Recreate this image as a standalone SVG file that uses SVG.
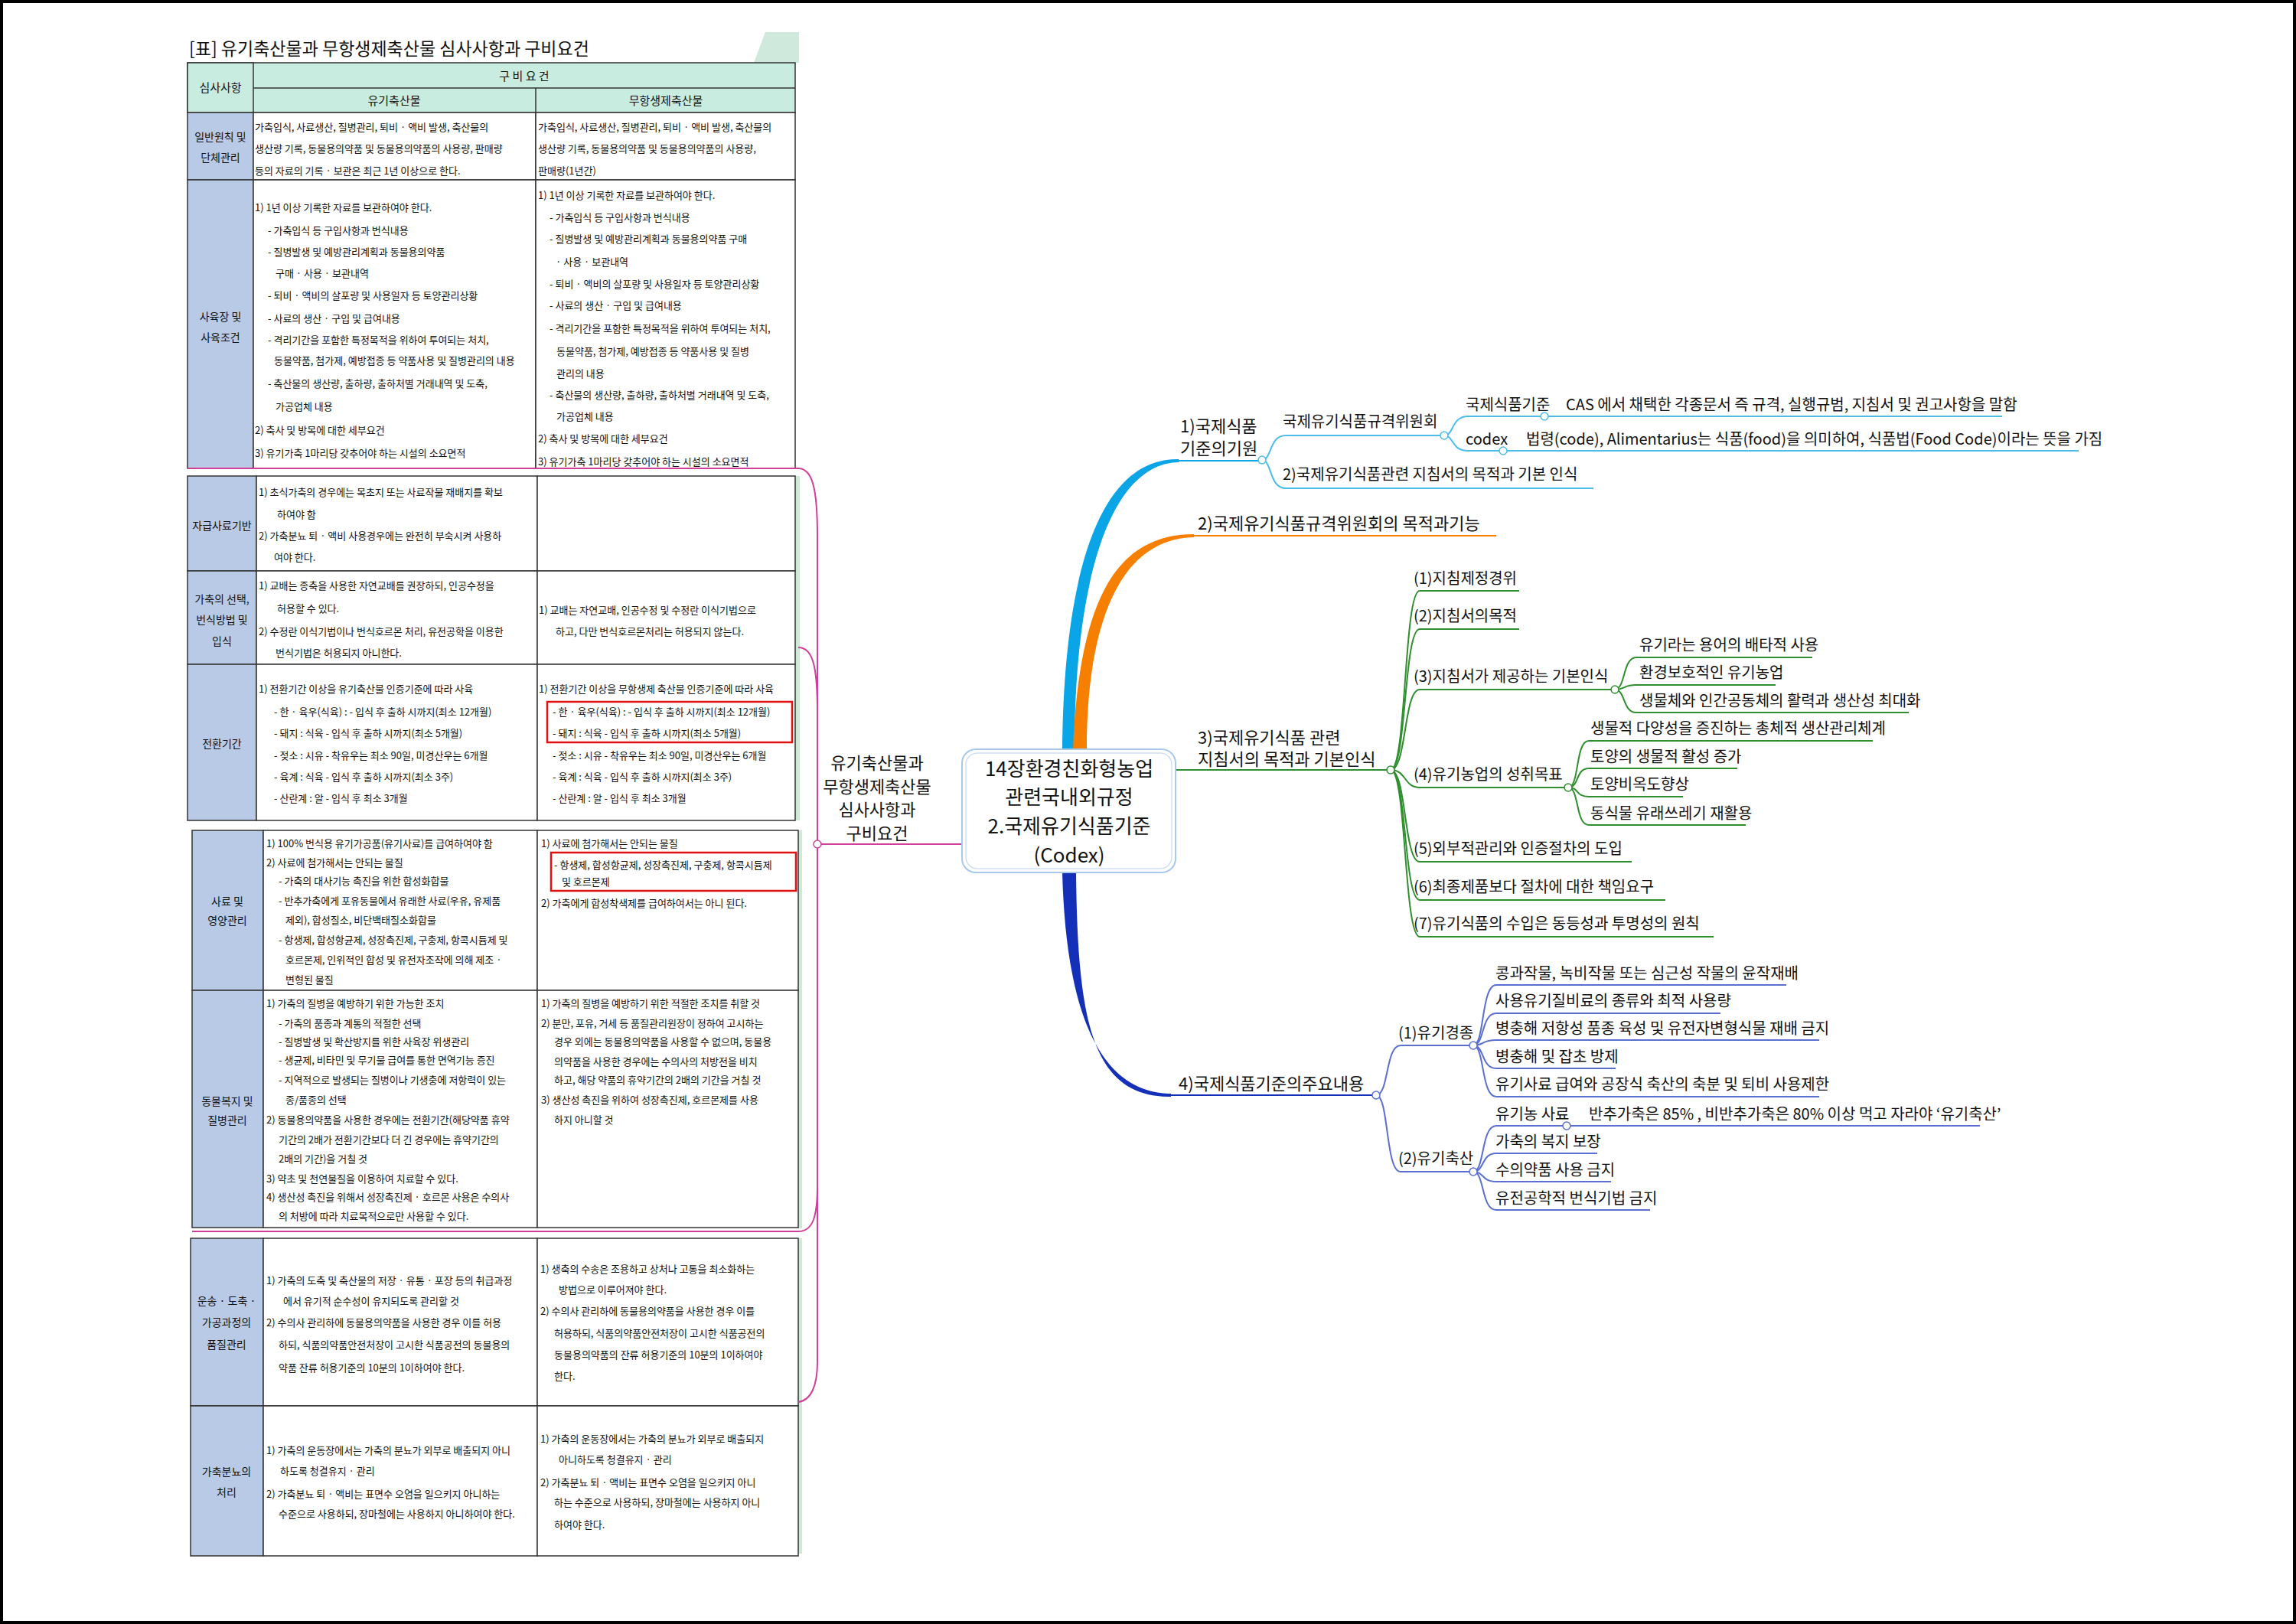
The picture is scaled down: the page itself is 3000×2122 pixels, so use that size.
<svg xmlns="http://www.w3.org/2000/svg" width="3000" height="2122" viewBox="0 0 3000 2122">
<style>
text{font-family:"Noto Sans CJK KR","Noto Sans",sans-serif;fill:#111}
.t{font-size:13px}
.lb{font-size:14px;text-anchor:middle}
.hd{font-size:15px;text-anchor:middle}
.mm{font-size:20px}
.mb{font-size:22px}
.cell{fill:#fff;stroke:#333;stroke-width:1.5}
.lab{fill:#b8cae6;stroke:#333;stroke-width:1.5}
.hdr{fill:#c8ece0;stroke:#333;stroke-width:1.5}
.red{fill:none;stroke:#e01010;stroke-width:2.5}
.b1{fill:none;stroke:#4cbcea;stroke-width:2}
.b3{fill:none;stroke:#2f8f2f;stroke-width:2}
.b4{fill:none;stroke:#5a6fd0;stroke-width:2}
.pk{fill:none;stroke:#d0409a;stroke-width:2}
.dot{fill:#fff;stroke-width:1.5}
</style>
<rect x="2" y="2" width="2996" height="2118" fill="#fff" stroke="#000" stroke-width="4"/>

<g id="table">
<text x="247" y="72" style="font-size:23px">[표] 유기축산물과 무항생제축산물 심사사항과 구비요건</text>
<polygon points="1000,42 1044,42 1044,82 985,82" fill="#cfe9dc"/>
<rect class="hdr" x="245" y="82" width="794" height="65"/>
<rect class="hdr" x="245" y="82" width="86" height="65"/>
<line x1="331" y1="115" x2="1039" y2="115" stroke="#333" stroke-width="1.5"/>
<line x1="700" y1="115" x2="700" y2="147" stroke="#333" stroke-width="1.5"/>
<text class="hd" x="288" y="120">심사사항</text>
<text class="hd" x="685" y="105">구 비 요 건</text>
<text class="hd" x="515" y="137">유기축산물</text>
<text class="hd" x="870" y="137">무항생제축산물</text>
<rect class="lab" x="245" y="147" width="86" height="88"/>
<rect class="cell" x="331" y="147" width="369" height="88"/>
<rect class="cell" x="700" y="147" width="339" height="88"/>
<rect class="lab" x="245" y="235" width="86" height="377"/>
<rect class="cell" x="331" y="235" width="369" height="377"/>
<rect class="cell" x="700" y="235" width="339" height="377"/>
<text class="lb" x="288" y="184">일반원칙 및</text>
<text class="lb" x="288" y="211">단체관리</text>
<text class="lb" x="288" y="419">사육장 및</text>
<text class="lb" x="288" y="446">사육조건</text>
<g class="t">
<text x="333" y="171">가축입식, 사료생산, 질병관리, 퇴비 · 액비 발생, 축산물의</text>
<text x="333" y="199">생산량 기록, 동물용의약품 및 동물용의약품의 사용량, 판매량</text>
<text x="333" y="228">등의 자료의 기록 · 보관은 최근 1년 이상으로 한다.</text>
<text x="703" y="171">가축입식, 사료생산, 질병관리, 퇴비 · 액비 발생, 축산물의</text>
<text x="703" y="199">생산량 기록, 동물용의약품 및 동물용의약품의 사용량,</text>
<text x="703" y="228">판매량(1년간)</text>
<text x="333" y="276">1) 1년 이상 기록한 자료를 보관하여야 한다.</text>
<text x="350" y="306">- 가축입식 등 구입사항과 번식내용</text>
<text x="350" y="334">- 질병발생 및 예방관리계획과 동물용의약품</text>
<text x="360" y="362">구매 · 사용 · 보관내역</text>
<text x="350" y="391">- 퇴비 · 액비의 살포량 및 사용일자 등 토양관리상황</text>
<text x="350" y="421">- 사료의 생산 · 구입 및 급여내용</text>
<text x="350" y="449">- 격리기간을 포함한 특정목적을 위하여 투여되는 처치,</text>
<text x="358" y="476">동물약품, 첨가제, 예방접종 등 약품사용 및 질병관리의 내용</text>
<text x="350" y="506">- 축산물의 생산량, 출하량, 출하처별 거래내역 및 도축,</text>
<text x="360" y="536">가공업체 내용</text>
<text x="333" y="567">2) 축사 및 방목에 대한 세부요건</text>
<text x="333" y="597">3) 유기가축 1마리당 갖추어야 하는 시설의 소요면적</text>
<text x="703" y="260">1) 1년 이상 기록한 자료를 보관하여야 한다.</text>
<text x="718" y="289">- 가축입식 등 구입사항과 번식내용</text>
<text x="718" y="317">- 질병발생 및 예방관리계획과 동물용의약품 구매</text>
<text x="726" y="347">· 사용 · 보관내역</text>
<text x="718" y="376">- 퇴비 · 액비의 살포량 및 사용일자 등 토양관리상황</text>
<text x="718" y="404">- 사료의 생산 · 구입 및 급여내용</text>
<text x="718" y="434">- 격리기간을 포함한 특정목적을 위하여 투여되는 처치,</text>
<text x="727" y="464">동물약품, 첨가제, 예방접종 등 약품사용 및 질병</text>
<text x="727" y="493">관리의 내용</text>
<text x="718" y="521">- 축산물의 생산량, 출하량, 출하처별 거래내역 및 도축,</text>
<text x="727" y="549">가공업체 내용</text>
<text x="703" y="578">2) 축사 및 방목에 대한 세부요건</text>
<text x="703" y="608">3) 유기가축 1마리당 갖추어야 하는 시설의 소요면적</text>
</g>

<rect x="1039" y="622" width="6" height="450" fill="#cfe8d8"/>
<rect class="lab" x="245" y="622" width="90" height="124"/>
<rect class="cell" x="335" y="622" width="367" height="124"/>
<rect class="cell" x="702" y="622" width="337" height="124"/>
<rect class="lab" x="245" y="746" width="90" height="122"/>
<rect class="cell" x="335" y="746" width="367" height="122"/>
<rect class="cell" x="702" y="746" width="337" height="122"/>
<rect class="lab" x="245" y="868" width="90" height="204"/>
<rect class="cell" x="335" y="868" width="367" height="204"/>
<rect class="cell" x="702" y="868" width="337" height="204"/>
<text class="lb" x="290" y="692">자급사료기반</text>
<text class="lb" x="290" y="788">가축의 선택,</text>
<text class="lb" x="290" y="815">번식방법 및</text>
<text class="lb" x="290" y="843">입식</text>
<text class="lb" x="290" y="977">전환기간</text>
<g class="t">
<text x="338" y="648">1)  초식가축의 경우에는 목초지 또는 사료작물 재배지를 확보</text>
<text x="362" y="677">하여야 함</text>
<text x="338" y="705">2) 가축분뇨 퇴 · 액비 사용경우에는 완전히 부숙시켜 사용하</text>
<text x="358" y="733">여야 한다.</text>
<text x="338" y="770">1)  교배는 종축을 사용한 자연교배를 권장하되, 인공수정을</text>
<text x="362" y="800">허용할 수 있다.</text>
<text x="338" y="830">2)  수정란 이식기법이나 번식호르몬 처리, 유전공학을 이용한</text>
<text x="360" y="858">번식기법은 허용되지 아니한다.</text>
<text x="704" y="802">1)  교배는 자연교배, 인공수정 및 수정란 이식기법으로</text>
<text x="726" y="830">하고, 다만 번식호르몬처리는 허용되지 않는다.</text>
<text x="338" y="905">1) 전환기간 이상을 유기축산물 인증기준에 따라 사육</text>
<text x="358" y="935">- 한 · 육우(식육) : - 입식 후 출하 시까지(최소 12개월)</text>
<text x="358" y="963">- 돼지 : 식육 - 입식 후 출하 시까지(최소 5개월)</text>
<text x="358" y="992">- 젖소 : 시유 - 착유우는 최소 90일, 미경산우는 6개월</text>
<text x="358" y="1020">- 육계 : 식육 - 입식 후 출하 시까지(최소 3주)</text>
<text x="358" y="1048">- 산란계 : 알 - 입식 후 최소 3개월</text>
<text x="704" y="905">1) 전환기간 이상을 무항생제 축산물 인증기준에 따라 사육</text>
<text x="722" y="935">- 한 · 육우(식육) : - 입식 후 출하 시까지(최소 12개월)</text>
<text x="722" y="963">- 돼지 : 식육 - 입식 후 출하 시까지(최소 5개월)</text>
<text x="722" y="992">- 젖소 : 시유 - 착유우는 최소 90일, 미경산우는 6개월</text>
<text x="722" y="1020">- 육계 : 식육 - 입식 후 출하 시까지(최소 3주)</text>
<text x="722" y="1048">- 산란계 : 알 - 입식 후 최소 3개월</text>
</g>
<rect class="red" x="715" y="917" width="320" height="53"/>

<rect x="1043" y="1085" width="5" height="520" fill="#cfe8d8"/>
<rect class="lab" x="251" y="1085" width="93" height="209"/>
<rect class="cell" x="344" y="1085" width="358" height="209"/>
<rect class="cell" x="702" y="1085" width="341" height="209"/>
<rect class="lab" x="251" y="1294" width="93" height="310"/>
<rect class="cell" x="344" y="1294" width="358" height="310"/>
<rect class="cell" x="702" y="1294" width="341" height="310"/>
<text class="lb" x="297" y="1183">사료 및</text>
<text class="lb" x="297" y="1208">영양관리</text>
<text class="lb" x="297" y="1444">동물복지 및</text>
<text class="lb" x="297" y="1469">질병관리</text>
<g class="t">
<text x="348" y="1107">1) 100% 번식용 유기가공품(유기사료)를 급여하여야 함</text>
<text x="348" y="1132">2) 사료에 첨가해서는 안되는 물질</text>
<text x="364" y="1156">- 가축의 대사기능 촉진을 위한 합성화합물</text>
<text x="364" y="1182">- 반추가축에게 포유동물에서 유래한 사료(우유, 유제품</text>
<text x="373" y="1207">제외), 합성질소, 비단백태질소화합물</text>
<text x="364" y="1233">- 항생제, 합성항균제, 성장촉진제, 구충제, 항콕시듐제 및</text>
<text x="373" y="1259">호르몬제, 인위적인 합성 및 유전자조작에 의해 제조 ·</text>
<text x="373" y="1285">변형된 물질</text>
<text x="707" y="1107">1) 사료에 첨가해서는 안되는 물질</text>
<text x="724" y="1135">- 항생제, 합성항균제, 성장촉진제, 구충제, 항콕시듐제</text>
<text x="734" y="1157">및 호르몬제</text>
<text x="707" y="1185">2) 가축에게 합성착색제를 급여하여서는 아니 된다.</text>
<text x="348" y="1316">1) 가축의 질병을 예방하기 위한 가능한 조치</text>
<text x="364" y="1342">- 가축의 품종과 계통의 적절한 선택</text>
<text x="364" y="1366">- 질병발생 및 확산방지를 위한 사육장 위생관리</text>
<text x="364" y="1390">- 생균제, 비타민 및 무기물 급여를 통한 면역기능 증진</text>
<text x="364" y="1416">- 지역적으로 발생되는 질병이나 기생충에 저항력이 있는</text>
<text x="373" y="1442">종/품종의 선택</text>
<text x="348" y="1468">2) 동물용의약품을 사용한 경우에는 전환기간(해당약품 휴약</text>
<text x="364" y="1494">기간의 2배가 전환기간보다 더 긴 경우에는 휴약기간의</text>
<text x="364" y="1519">2배의 기간)을 거칠 것</text>
<text x="348" y="1545">3) 약초 및 천연물질을 이용하여 치료할 수 있다.</text>
<text x="348" y="1569">4) 생산성 촉진을 위해서 성장촉진제 · 호르몬 사용은 수의사</text>
<text x="364" y="1594">의 처방에 따라 치료목적으로만 사용할 수 있다.</text>
<text x="707" y="1316">1) 가축의 질병을 예방하기 위한 적절한 조치를 취할 것</text>
<text x="707" y="1342">2) 분만, 포유, 거세 등 품질관리원장이 정하여 고시하는</text>
<text x="724" y="1366">경우 외에는 동물용의약품을 사용할 수 없으며, 동물용</text>
<text x="724" y="1392">의약품을 사용한 경우에는 수의사의 처방전을 비치</text>
<text x="724" y="1416">하고, 해당 약품의 휴약기간의 2배의 기간을 거칠 것</text>
<text x="707" y="1442">3) 생산성 촉진을 위하여 성장촉진제, 호르몬제를 사용</text>
<text x="724" y="1468">하지 아니할 것</text>
</g>
<rect class="red" x="720" y="1114" width="320" height="50"/>

<rect x="1043" y="1618" width="5" height="412" fill="#cfe8d8"/>
<rect class="lab" x="249" y="1618" width="95" height="219"/>
<rect class="cell" x="344" y="1618" width="358" height="219"/>
<rect class="cell" x="702" y="1618" width="341" height="219"/>
<rect class="lab" x="249" y="1837" width="95" height="196"/>
<rect class="cell" x="344" y="1837" width="358" height="196"/>
<rect class="cell" x="702" y="1837" width="341" height="196"/>
<text class="lb" x="296" y="1705">운송 · 도축 ·</text>
<text class="lb" x="296" y="1733">가공과정의</text>
<text class="lb" x="296" y="1762">품질관리</text>
<text class="lb" x="296" y="1928">가축분뇨의</text>
<text class="lb" x="296" y="1955">처리</text>
<g class="t">
<text x="348" y="1678">1)  가축의 도축 및 축산물의 저장 · 유통 · 포장 등의 취급과정</text>
<text x="370" y="1705">에서 유기적 순수성이 유지되도록 관리할 것</text>
<text x="348" y="1733">2)  수의사 관리하에 동물용의약품을 사용한 경우 이를 허용</text>
<text x="364" y="1762">하되, 식품의약품안전처장이 고시한 식품공전의 동물용의</text>
<text x="364" y="1792">약품 잔류 허용기준의 10분의 1이하여야 한다.</text>
<text x="706" y="1663">1)  생축의 수송은 조용하고 상처나 고통을 최소화하는</text>
<text x="730" y="1690">방법으로 이루어져야 한다.</text>
<text x="706" y="1718">2)  수의사 관리하에 동물용의약품을 사용한 경우 이를</text>
<text x="724" y="1747">허용하되, 식품의약품안전처장이 고시한 식품공전의</text>
<text x="724" y="1775">동물용의약품의 잔류 허용기준의 10분의 1이하여야</text>
<text x="724" y="1803">한다.</text>
<text x="348" y="1900">1)  가축의 운동장에서는 가축의 분뇨가 외부로 배출되지 아니</text>
<text x="366" y="1927">하도록 청결유지 · 관리</text>
<text x="348" y="1957">2)  가축분뇨 퇴 · 액비는 표면수 오염을 일으키지 아니하는</text>
<text x="364" y="1983">수준으로 사용하되, 장마철에는 사용하지 아니하여야 한다.</text>
<text x="706" y="1885">1)  가축의 운동장에서는 가축의 분뇨가 외부로 배출되지</text>
<text x="730" y="1912">아니하도록 청결유지 · 관리</text>
<text x="706" y="1942">2)  가축분뇨 퇴 · 액비는 표면수 오염을 일으키지 아니</text>
<text x="724" y="1968">하는 수준으로 사용하되, 장마철에는 사용하지 아니</text>
<text x="724" y="1997">하여야 한다.</text>
</g>
</g>

<g id="connectors">
<path class="pk" d="M245,612 L1043,612 C1062,612 1068,640 1068,700 L1068,1780 C1068,1810 1060,1830 1043,1832"/>
<path class="pk" d="M1043,846 C1062,846 1068,870 1068,930"/>
<path class="pk" d="M251,1609 L1043,1609 C1062,1609 1068,1590 1068,1550"/>
<path class="pk" d="M1068,1103 L1257,1103"/>
<circle class="dot" cx="1068" cy="1103" r="5" stroke="#d0409a"/>

<path d="M1388,980 C1390,740 1440,598 1540,600 L1540,604 C1450,606 1404,760 1404,980 Z" fill="#0aa5e6"/>
<path fill="none" stroke="#0aa5e6" stroke-width="2" d="M1530,602 L1649,602"/>
<path d="M1402,980 C1410,780 1460,698 1560,698 L1560,702 C1470,704 1420,800 1420,980 Z" fill="#f77f00"/>
<path fill="none" stroke="#f77f00" stroke-width="2" d="M1550,700 L1955,700"/>
<path fill="none" stroke="#2f8f2f" stroke-width="2" d="M1536,1006 L1817,1006"/>
<path d="M1388,1140 C1393,1330 1440,1428 1530,1429 L1530,1433 C1425,1434 1408,1330 1406,1140 Z" fill="#1430b8"/>
<path fill="none" stroke="#1430b8" stroke-width="2" d="M1525,1431 L1798,1431"/>

<path class="b1" d="M1649,601 C1662,601 1658,569 1680,569 L1887,569"/>
<path class="b1" d="M1649,601 C1662,601 1658,638 1680,638 L2082,638"/>
<path class="b1" d="M1887,569 C1900,569 1896,544 1918,544 L2616,544"/>
<path class="b1" d="M1887,569 C1900,569 1896,589 1918,589 L2716,589"/>

<path class="b3" d="M1817,1006 C1838,1006 1834,772 1855,772 L1985,772"/>
<path class="b3" d="M1817,1006 C1838,1006 1834,822 1855,822 L1985,822"/>
<path class="b3" d="M1817,1006 C1838,1006 1834,901 1855,901 L2110,901"/>
<path class="b3" d="M1817,1006 C1838,1006 1834,1029 1855,1029 L2049,1029"/>
<path class="b3" d="M1817,1006 C1838,1006 1834,1126 1855,1126 L2132,1126"/>
<path class="b3" d="M1817,1006 C1838,1006 1834,1176 1855,1176 L2176,1176"/>
<path class="b3" d="M1817,1006 C1838,1006 1834,1224 1855,1224 L2239,1224"/>
<path class="b3" d="M2110,901 C2124,901 2120,859 2138,859 L2368,859"/>
<path class="b3" d="M2110,901 C2124,901 2120,895 2138,895 L2320,895"/>
<path class="b3" d="M2110,901 C2124,901 2120,931 2138,931 L2494,931"/>
<path class="b3" d="M2049,1029 C2064,1029 2058,968 2076,968 L2447,968"/>
<path class="b3" d="M2049,1029 C2064,1029 2058,1004 2076,1004 L2270,1004"/>
<path class="b3" d="M2049,1029 C2064,1029 2058,1041 2076,1041 L2199,1041"/>
<path class="b3" d="M2049,1029 C2064,1029 2058,1078 2076,1078 L2281,1078"/>

<path class="b4" d="M1798,1431 C1815,1431 1810,1366 1830,1366 L1925,1366"/>
<path class="b4" d="M1798,1431 C1815,1431 1810,1531 1830,1531 L1925,1531"/>
<path class="b4" d="M1925,1366 C1940,1366 1935,1287 1955,1287 L2334,1287"/>
<path class="b4" d="M1925,1366 C1940,1366 1935,1324 1955,1324 L2248,1324"/>
<path class="b4" d="M1925,1366 C1940,1366 1935,1359 1955,1359 L2377,1359"/>
<path class="b4" d="M1925,1366 C1940,1366 1935,1396 1955,1396 L2111,1396"/>
<path class="b4" d="M1925,1366 C1940,1366 1935,1433 1955,1433 L2377,1433"/>
<path class="b4" d="M1925,1531 C1940,1531 1935,1471 1955,1471 L2587,1471"/>
<path class="b4" d="M1925,1531 C1940,1531 1935,1507 1955,1507 L2087,1507"/>
<path class="b4" d="M1925,1531 C1940,1531 1935,1544 1955,1544 L2105,1544"/>
<path class="b4" d="M1925,1531 C1940,1531 1935,1581 1955,1581 L2156,1581"/>

<circle class="dot" cx="1649" cy="601" r="5" stroke="#4cbcea"/>
<circle class="dot" cx="1887" cy="569" r="5" stroke="#4cbcea"/>
<circle class="dot" cx="2018" cy="544" r="5" stroke="#4cbcea"/>
<circle class="dot" cx="1964" cy="589" r="5" stroke="#4cbcea"/>
<circle class="dot" cx="1817" cy="1006" r="5" stroke="#2f8f2f"/>
<circle class="dot" cx="2110" cy="901" r="5" stroke="#2f8f2f"/>
<circle class="dot" cx="2049" cy="1029" r="5" stroke="#2f8f2f"/>
<circle class="dot" cx="1798" cy="1431" r="5" stroke="#5a6fd0"/>
<circle class="dot" cx="1925" cy="1366" r="5" stroke="#5a6fd0"/>
<circle class="dot" cx="1925" cy="1531" r="5" stroke="#5a6fd0"/>
<circle class="dot" cx="2047" cy="1471" r="5" stroke="#5a6fd0"/>
</g>

<g id="center">
<rect x="1257" y="979" width="279" height="161" rx="18" fill="#fff" stroke="#a8c8ec" stroke-width="2"/>
<rect x="1262" y="984" width="269" height="151" rx="15" fill="none" stroke="#cfe0f4" stroke-width="1.5"/>
<g style="font-size:26px;text-anchor:middle">
<text x="1397" y="1014">14장환경친화형농업</text>
<text x="1397" y="1051">관련국내외규정</text>
<text x="1397" y="1089">2.국제유기식품기준</text>
<text x="1397" y="1127">(Codex)</text>
</g>
</g>
<g id="pink-node" style="font-size:22px;text-anchor:middle">
<text x="1146" y="1005">유기축산물과</text>
<text x="1146" y="1036">무항생제축산물</text>
<text x="1146" y="1066">심사사항과</text>
<text x="1146" y="1097">구비요건</text>
</g>
<g id="b1"><text class="mb" x="1542" y="565">1)국제식품</text><text class="mb" x="1542" y="594">기준의기원</text></g>
<g id="b1a"><text class="mm" x="1676" y="558">국제유기식품규격위원회</text></g>
<g id="b1a1"><text class="mm" x="1915" y="536">국제식품기준</text><text class="mm" x="2046" y="536">CAS 에서 채택한 각종문서 즉 규격, 실행규범, 지침서 및 권고사항을 말함</text></g>
<g id="b1a2"><text class="mm" x="1915" y="581">codex</text><text class="mm" x="1994" y="581">법령(code), Alimentarius는 식품(food)을 의미하여,  식품법(Food Code)이라는 뜻을 가짐</text></g>
<g id="b1b"><text class="mm" x="1676" y="627">2)국제유기식품관련 지침서의 목적과 기본 인식</text></g>
<g id="b2"><text class="mb" x="1565" y="692">2)국제유기식품규격위원회의 목적과기능</text></g>
<g id="b3"><text class="mb" x="1565" y="972">3)국제유기식품 관련</text><text class="mb" x="1565" y="1000">지침서의 목적과 기본인식</text></g>
<g id="b3s" class="mm">
<text class="mm" x="1847" y="763">(1)지침제정경위</text>
<text class="mm" x="1847" y="812">(2)지침서의목적</text>
<text class="mm" x="1847" y="891">(3)지침서가 제공하는 기본인식</text>
<text class="mm" x="2142" y="850">유기라는 용어의 배타적 사용</text>
<text class="mm" x="2142" y="886">환경보호적인 유기농업</text>
<text class="mm" x="2142" y="923">생물체와 인간공동체의 활력과 생산성 최대화</text>
<text class="mm" x="1847" y="1019">(4)유기농업의 성취목표</text>
<text class="mm" x="2078" y="959">생물적 다양성을 증진하는 총체적 생산관리체계</text>
<text class="mm" x="2078" y="996">토양의 생물적 활성 증가</text>
<text class="mm" x="2078" y="1032">토양비옥도향상</text>
<text class="mm" x="2078" y="1070">동식물 유래쓰레기 재활용</text>
<text class="mm" x="1847" y="1116">(5)외부적관리와 인증절차의 도입</text>
<text class="mm" x="1847" y="1166">(6)최종제품보다 절차에 대한 책임요구</text>
<text class="mm" x="1847" y="1214">(7)유기식품의 수입은 동등성과 투명성의 원칙</text>
</g>
<g id="b4"><text class="mb" x="1540" y="1424">4)국제식품기준의주요내용</text></g>
<g id="b4s">
<text class="mm" x="1827" y="1357">(1)유기경종</text>
<text class="mm" x="1954" y="1279">콩과작물, 녹비작물 또는 심근성 작물의 윤작재배</text>
<text class="mm" x="1954" y="1315">사용유기질비료의 종류와 최적 사용량</text>
<text class="mm" x="1954" y="1351">병충해 저항성 품종 육성 및 유전자변형식물 재배 금지</text>
<text class="mm" x="1954" y="1388">병충해 및 잡초 방제</text>
<text class="mm" x="1954" y="1424">유기사료 급여와 공장식 축산의 축분 및 퇴비 사용제한</text>
<text class="mm" x="1827" y="1521">(2)유기축산</text>
<text class="mm" x="1954" y="1463">유기농 사료</text>
<text class="mm" x="2076" y="1463">반추가축은 85% , 비반추가축은 80% 이상 먹고 자라야 ‘유기축산’</text>
<text class="mm" x="1954" y="1499">가축의 복지 보장</text>
<text class="mm" x="1954" y="1536">수의약품 사용 금지</text>
<text class="mm" x="1954" y="1573">유전공학적 번식기법 금지</text>
</g>
</svg>
